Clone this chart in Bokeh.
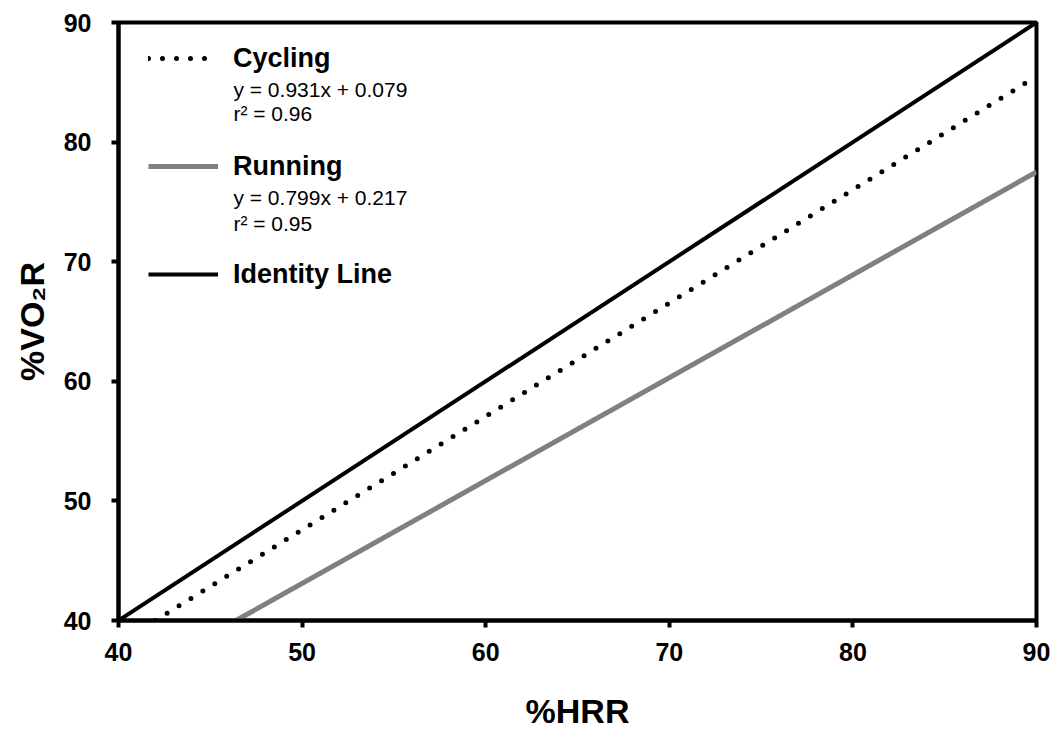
from bokeh.plotting import figure
from bokeh.models import Range1d, Legend, LegendItem, Label, FixedTicker
from bokeh.embed import file_html
from bokeh.resources import INLINE

# Data
cycling_x = [42.0, 90.0]
cycling_y = [40.0, 85.5]
running_x = [46.4, 90.0]
running_y = [40.0, 77.5]
identity_x = [40.0, 90.0]
identity_y = [40.0, 90.0]
x_ticks = [40, 50, 60, 70, 80, 90]
y_ticks = [40, 50, 60, 70, 80, 90]
series_names = ["Cycling", "Running", "Identity Line"]
equations = ["y = 0.931x + 0.079", "r\u00b2 = 0.96", "y = 0.799x + 0.217", "r\u00b2 = 0.95"]

FONT = "Liberation Sans"

p = figure(width=1053, height=735, output_backend="svg", toolbar_location=None,
           x_range=Range1d(40, 90), y_range=Range1d(40, 90),
           min_border_left=118, min_border_right=17, min_border_top=22, min_border_bottom=115)
p.outline_line_color = "black"
p.outline_line_width = 4
p.grid.visible = False
p.background_fill_color = "white"
p.border_fill_color = "white"

for ax in (p.xaxis[0], p.yaxis[0]):
    ax.axis_line_width = 4
    ax.major_tick_line_width = 4
    ax.major_tick_out = 7
    ax.major_tick_in = 0
    ax.minor_tick_line_color = None
    ax.major_label_text_font = FONT
    ax.major_label_text_font_style = "bold"
    ax.major_label_text_font_size = "25px"
    ax.major_label_text_color = "black"
    ax.axis_label_text_font = FONT
    ax.axis_label_text_font_style = "bold"
    ax.axis_label_text_font_size = "34px"
    ax.axis_label_text_color = "black"

p.xaxis.ticker = FixedTicker(ticks=x_ticks)
p.yaxis.ticker = FixedTicker(ticks=y_ticks)
p.xaxis.axis_label = "%HRR"
p.yaxis.axis_label = "%VO\u2082R"
p.xaxis.major_label_standoff = 15
p.yaxis.major_label_standoff = 20
p.xaxis.axis_label_standoff = 28
p.yaxis.axis_label_standoff = 10

r_id = p.line(identity_x, identity_y, line_color="black", line_width=4)
r_cyc = p.line(cycling_x, cycling_y, line_color="black", line_width=5, line_dash="0 14", line_cap="round")
r_run = p.line(running_x, running_y, line_color="#808080", line_width=5)

legend = Legend(items=[LegendItem(label=series_names[0], renderers=[r_cyc]),
                       LegendItem(label=series_names[1], renderers=[r_run]),
                       LegendItem(label=series_names[2], renderers=[r_id])],
                location=(30, 329), padding=0, margin=0, spacing=74,
                glyph_width=70, glyph_height=34, label_height=34, label_standoff=15,
                border_line_color=None, background_fill_alpha=0,
                label_text_font=FONT, label_text_font_style="bold",
                label_text_font_size="27px", label_text_color="black")
p.add_layout(legend)

eq_x = 46.26
eq_y = [84.40, 82.39, 75.37, 73.19]
for txt, yy in zip(equations, eq_y):
    p.add_layout(Label(x=eq_x, y=yy, text=txt, text_font=FONT, text_font_size="21px",
                       text_baseline="middle", text_align="left", text_color="black"))

open("out.html", "w").write(file_html(p, INLINE))
